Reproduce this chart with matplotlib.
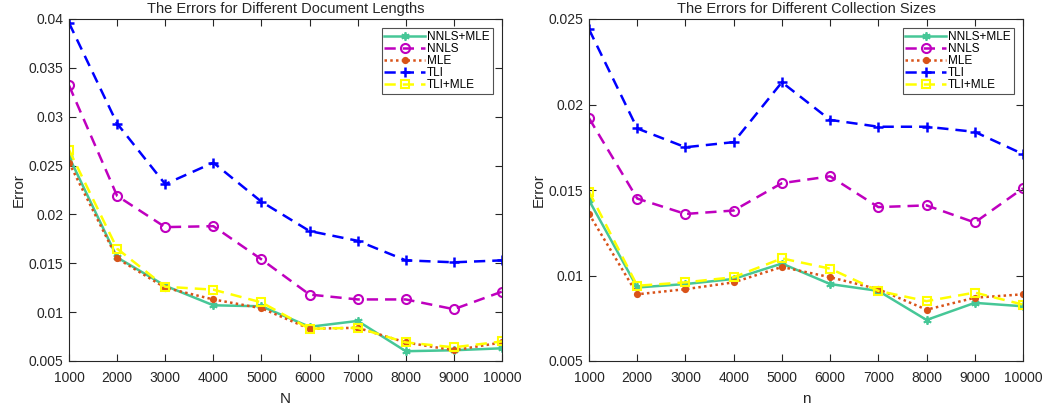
import matplotlib
matplotlib.use("Agg")
import matplotlib.pyplot as plt
from matplotlib.ticker import FuncFormatter

plt.rcParams['font.family'] = ['Liberation Sans', 'DejaVu Sans']

x_vals = [1000, 2000, 3000, 4000, 5000, 6000, 7000, 8000, 9000, 10000]

# Errors vs document length N
doc_nnls_mle = [0.0259, 0.0156, 0.0127, 0.0107, 0.0106, 0.0085, 0.0091, 0.0060, 0.0061, 0.0063]
doc_nnls     = [0.0332, 0.0219, 0.0187, 0.0188, 0.0154, 0.0118, 0.0113, 0.0113, 0.0103, 0.0121]
doc_mle      = [0.0253, 0.0155, 0.0125, 0.0113, 0.0104, 0.0083, 0.0084, 0.0069, 0.0061, 0.0069]
doc_tli      = [0.0396, 0.0293, 0.0231, 0.0253, 0.0213, 0.0183, 0.0173, 0.0153, 0.0151, 0.0153]
doc_tli_mle  = [0.0266, 0.0165, 0.0126, 0.0123, 0.0110, 0.0083, 0.0084, 0.0069, 0.0064, 0.0070]

# Errors vs collection size n
col_nnls_mle = [0.0144, 0.0093, 0.0095, 0.0098, 0.0107, 0.0095, 0.0091, 0.0074, 0.0084, 0.0082]
col_nnls     = [0.0192, 0.0145, 0.0136, 0.0138, 0.0154, 0.0158, 0.0140, 0.0141, 0.0131, 0.0151]
col_mle      = [0.0136, 0.0089, 0.0092, 0.0096, 0.0105, 0.0099, 0.0092, 0.0080, 0.0087, 0.0089]
col_tli      = [0.0244, 0.0186, 0.0175, 0.0178, 0.0213, 0.0191, 0.0187, 0.0187, 0.0184, 0.0171]
col_tli_mle  = [0.0149, 0.0094, 0.0096, 0.0099, 0.0110, 0.0104, 0.0091, 0.0085, 0.0090, 0.0083]

labels = ['NNLS+MLE', 'NNLS', 'MLE', 'TLI', 'TLI+MLE']
dash = (0, (4.5, 2.8))
styles = [
    dict(color='#46c797', linestyle='-', marker=(6, 2, 0), markersize=6, markeredgewidth=1.3),
    dict(color='#bf00bf', linestyle=dash, marker='o', markersize=6.5, markerfacecolor='none', markeredgewidth=1.5),
    dict(color='#d95319', linestyle=(0, (1, 1.3)), marker='o', markersize=5.2, markerfacecolor='#d95319', markeredgewidth=0),
    dict(color='#0000ff', linestyle=dash, marker='+', markersize=7, markeredgewidth=1.8),
    dict(color='#ffff00', linestyle=dash, marker='s', markersize=6, markerfacecolor='none', markeredgewidth=1.5),
]

fig = plt.figure(figsize=(10.46, 4.08), dpi=100)
ax1 = fig.add_axes([69/1046, 47/408, 433/1046, 342/408])
ax2 = fig.add_axes([589/1046, 47/408, 434/1046, 342/408])

fmt = FuncFormatter(lambda v, p: '%g' % round(v, 4))

def draw(ax, series, title, xlabel, ylim, yticks):
    for ys, lab, st in zip(series, labels, styles):
        ax.plot(x_vals, ys, label=lab, linewidth=1.8, **st)
    ax.set_xlim(1000, 10000)
    ax.set_ylim(*ylim)
    ax.set_xticks(x_vals)
    ax.set_yticks(yticks)
    ax.yaxis.set_major_formatter(fmt)
    ax.tick_params(direction='in', top=True, right=True, length=5, width=0.8,
                   labelsize=10, colors='#262626')
    ax.tick_params(axis='x', pad=7)
    ax.tick_params(axis='y', pad=4)
    for s in ax.spines.values():
        s.set_color('#262626')
        s.set_linewidth(0.8)
    ax.set_title(title, fontsize=10.5, color='#262626', pad=4)
    ax.set_xlabel(xlabel, fontsize=11, color='#262626', labelpad=5)
    ax.set_ylabel('Error', fontsize=11, color='#262626', labelpad=2)
    leg = ax.legend(loc='upper right', fontsize=8.5, frameon=True, fancybox=False,
                    handlelength=3.4, handletextpad=0.2, borderpad=0.25,
                    labelspacing=0.0, borderaxespad=0.8)
    leg.get_frame().set_edgecolor('#262626')
    leg.get_frame().set_linewidth(0.8)

draw(ax1, [doc_nnls_mle, doc_nnls, doc_mle, doc_tli, doc_tli_mle],
     'The Errors for Different Document Lengths', 'N', (0.005, 0.04),
     [0.005, 0.01, 0.015, 0.02, 0.025, 0.03, 0.035, 0.04])
draw(ax2, [col_nnls_mle, col_nnls, col_mle, col_tli, col_tli_mle],
     'The Errors for Different Collection Sizes', 'n', (0.005, 0.025),
     [0.005, 0.01, 0.015, 0.02, 0.025])

fig.savefig('out.png', dpi=100)
